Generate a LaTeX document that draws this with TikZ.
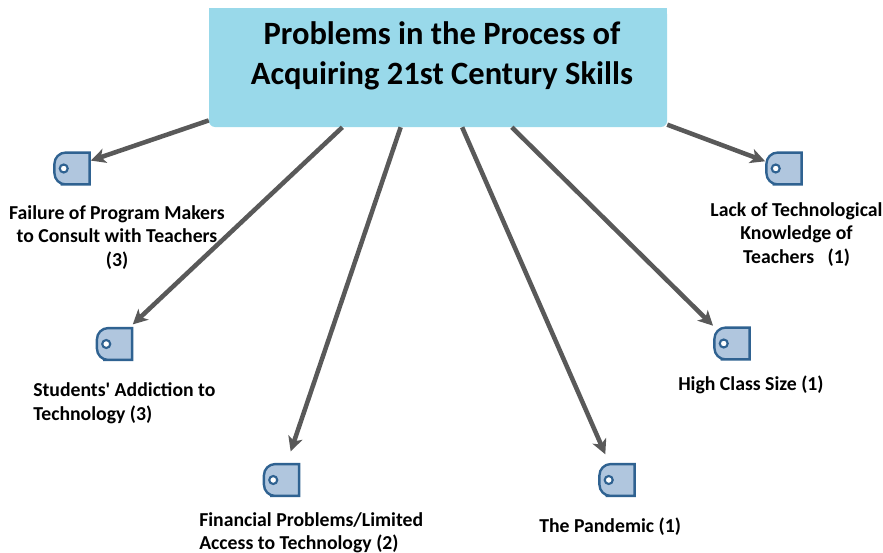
\documentclass[tikz,border=0pt]{standalone}
\usepackage{fontspec}
\setmainfont{Carlito}
\usetikzlibrary{arrows.meta}
\definecolor{titleblue}{HTML}{99D9EA}
\definecolor{iconblue}{HTML}{B0C6DE}
\definecolor{iconedge}{HTML}{2F6291}
\definecolor{arrowgray}{HTML}{595959}
\tikzset{
	titlebox/.style={fill=titleblue, rounded corners=4.5pt, minimum width=343.5pt, minimum height=89.25pt, inner sep=0pt},
	titletext/.style={align=center, inner sep=0pt, font=\fontsize{24.4}{30}\selectfont\bfseries},
	icon/.style={minimum width=26pt, minimum height=23.5pt, inner sep=0pt},
	iconshape/.style={draw=iconedge, line width=1.8pt, fill=iconblue, rounded corners=8.5pt},
	iconring/.style={draw=iconedge, line width=1.6pt, fill=white},
	caption/.style={inner sep=0pt, font=\fontsize{14.8}{17.6}\selectfont\bfseries},
	link/.style={draw=arrowgray, line width=3.4pt, -{Stealth[length=11pt,width=11pt,inset=3pt]}}
}
\begin{document}
\begin{tikzpicture}[x=0.75pt, y=-0.75pt]
	\useasboundingbox (0,0) rectangle (883,553);

	%title
	\node[titlebox] (title) at (438,67.5) {};
	\fill[titleblue] (title.north west) rectangle (title.east);
	\node[titletext] (titlewords) at (442,55.5) {Problems in the Process of\\Acquiring 21st Century Skills};

	%icons
	\node[icon] (fail) at (72,168.5) {};
	\node[icon] (addict) at (114.5,344) {};
	\node[icon] (money) at (281.5,480) {};
	\node[icon] (pandemic) at (617,480) {};
	\node[icon] (size) at (732,343.5) {};
	\node[icon] (lack) at (784,168.5) {};
	\foreach \n in {fail,addict,money,pandemic,size,lack} {
		\draw[iconshape] (\n.north) -- (\n.north west) -- (\n.south west) -- (\n.south) [sharp corners] -- (\n.south east) -- (\n.north east) -- cycle;
		\draw[iconring] ([xshift=7pt]\n.west) circle (3pt);
	}

	%captions
	\node[caption, align=center] (failtext) at (117,237.5) {Failure of Program Makers\\to Consult with Teachers\\(3)};
	\node[caption, align=left, anchor=west] (addicttext) at (33,403) {Students\textquotesingle{} Addiction to\\Technology (3)};
	\node[caption, align=left, anchor=west] (moneytext) at (199,533) {Financial Problems/Limited\\Access to Technology (2)};
	\node[caption, anchor=west] (pandemictext) at (539,527) {The Pandemic (1)};
	\node[caption, anchor=west] (sizetext) at (678,385) {High Class Size (1)};
	\node[caption, align=center] (lacktext) at (796.5,234.5) {Lack of Technological\\Knowledge of\\Teachers \ \ (1)};

	%arrows
	\draw[link, shorten >=1pt] (title.193) -- (fail.23);
	\draw[link, shorten >=4pt] (title.212) -- (addict.48);
	\draw[link, shorten >=10pt] (title.238) -- (money.73);
	\draw[link, shorten >=8pt] (title.-68) -- (pandemic.115);
	\draw[link, shorten >=2pt] (title.-39.6) -- (size.137);
	\draw[link, shorten >=1pt] (title.-14.6) -- (lack.159);
\end{tikzpicture}
\end{document}
